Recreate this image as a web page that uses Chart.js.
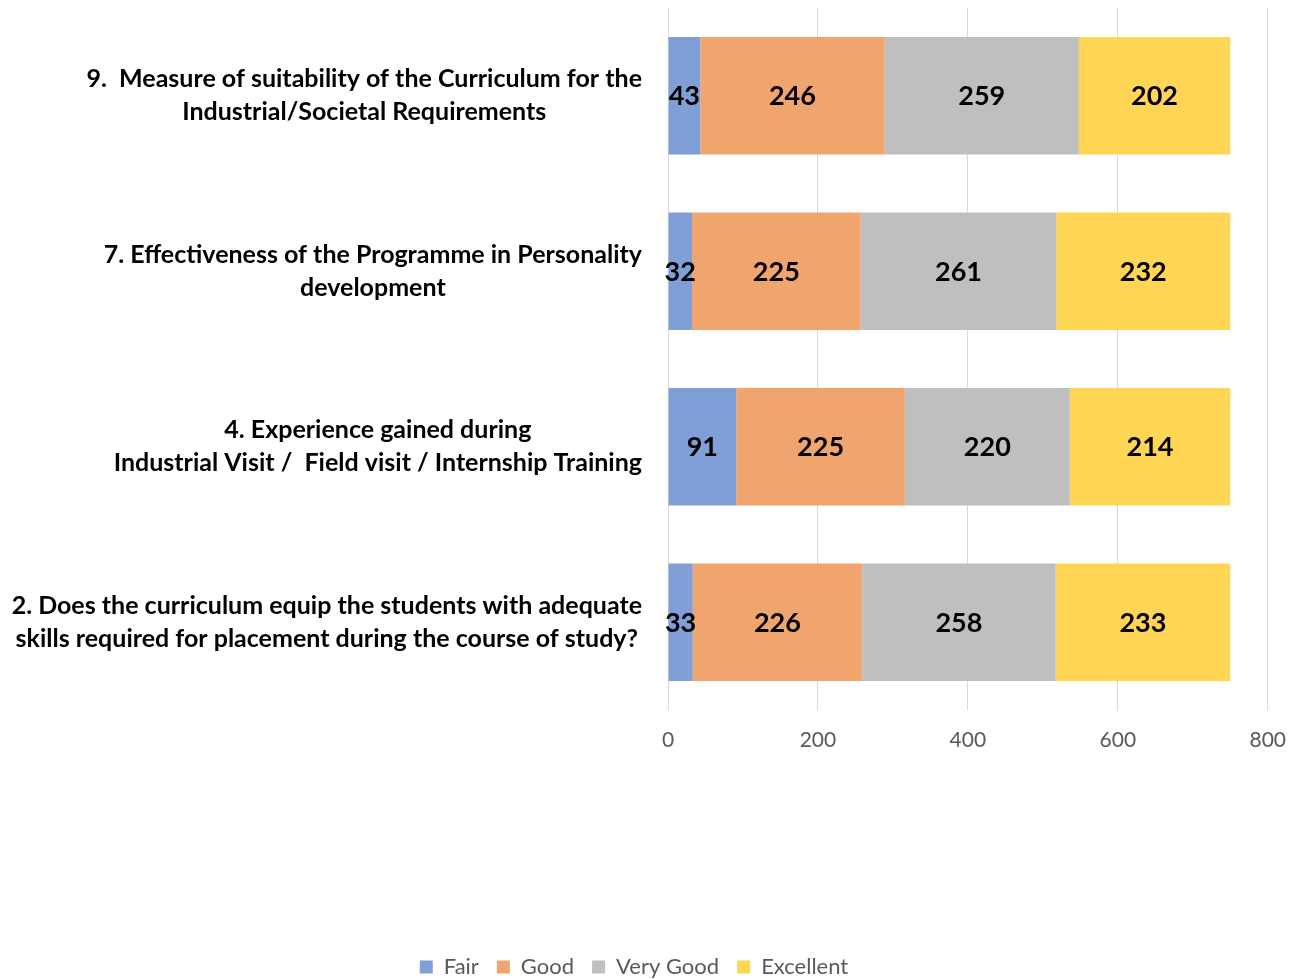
<!DOCTYPE html>
<html>
<head>
<meta charset="utf-8">
<script src="https://cdn.jsdelivr.net/npm/chart.js@4.4.0/dist/chart.umd.min.js"></script>
<style>
  html, body { margin: 0; padding: 0; background: #fff; }
  #wrap { width: 1304px; height: 979px; }
</style>
</head>
<body>
<div id="wrap"><canvas id="chart"></canvas></div>
<script>
  // categories, top to bottom
  const questions = [
    ['9.  Measure of suitability of the Curriculum for the', 'Industrial/Societal Requirements'],
    ['7. Effectiveness of the Programme in Personality', 'development'],
    ['4. Experience gained during', 'Industrial Visit /  Field visit / Internship Training'],
    ['2. Does the curriculum equip the students with adequate', 'skills required for placement during the course of study?']
  ];
  const fair = [43, 32, 91, 33];
  const good = [246, 225, 225, 226];
  const veryGood = [259, 261, 220, 258];
  const excellent = [202, 232, 214, 233];
  const xTicks = [0, 200, 400, 600, 800];

  // multi-line question labels, each block centred on itself and right-aligned to the axis
  const questionLabels = {
    id: 'questionLabels',
    afterDraw(chart) {
      const ctx = chart.ctx;
      const y = chart.scales.y;
      const right = chart.chartArea.left - 26;
      ctx.save();
      ctx.font = 'bold 25px Lato';
      ctx.fillStyle = '#000';
      ctx.textAlign = 'center';
      ctx.textBaseline = 'middle';
      questions.forEach((lines, i) => {
        const widest = Math.max(...lines.map(l => ctx.measureText(l).width));
        const cx = right - widest / 2;
        const cy = y.getPixelForValue(i);
        lines.forEach((l, j) => {
          ctx.fillText(l, cx, cy + (j - (lines.length - 1) / 2) * 33);
        });
      });
      ctx.restore();
    }
  };

  // value labels in the middle of each segment
  const valueLabels = {
    id: 'valueLabels',
    afterDatasetsDraw(chart) {
      const ctx = chart.ctx;
      ctx.save();
      ctx.font = 'bold 27px Lato';
      ctx.fillStyle = '#000';
      ctx.textAlign = 'center';
      ctx.textBaseline = 'middle';
      chart.data.datasets.forEach((ds, di) => {
        chart.getDatasetMeta(di).data.forEach((bar, i) => {
          ctx.fillText(ds.data[i], (bar.x + bar.base) / 2, bar.y + 1);
        });
      });
      ctx.restore();
    }
  };

  new Chart(document.getElementById('chart'), {
    type: 'bar',
    data: {
      labels: questions.map(q => q.join(' ')),
      datasets: [
        { label: 'Fair', data: fair, backgroundColor: '#7f9fd6' },
        { label: 'Good', data: good, backgroundColor: '#f0a56e' },
        { label: 'Very Good', data: veryGood, backgroundColor: '#bfbfbf' },
        { label: 'Excellent', data: excellent, backgroundColor: '#ffd555' }
      ]
    },
    options: {
      indexAxis: 'y',
      responsive: true,
      maintainAspectRatio: false,
      animation: false,
      categoryPercentage: 0.67,
      barPercentage: 1,
      layout: { padding: { top: 8, right: 36, bottom: -9, left: 0 } },
      scales: {
        x: {
          stacked: true,
          min: 0,
          max: 800,
          afterBuildTicks: s => { s.ticks = xTicks.map(v => ({ value: v })); },
          afterFit: s => { s.height = 228; },
          ticks: { font: { family: 'Lato', size: 21 }, color: '#595959', padding: 18 },
          grid: { color: '#d9d9d9', drawTicks: false },
          border: { display: false }
        },
        y: {
          stacked: true,
          afterFit: s => { s.width = 668; },
          ticks: { display: false },
          grid: { display: false },
          border: { display: false }
        }
      },
      plugins: {
        legend: {
          position: 'bottom',
          labels: {
            boxWidth: 13,
            boxHeight: 13,
            padding: 18,
            color: '#595959',
            font: { family: 'Lato', size: 22 }
          }
        },
        tooltip: { enabled: false }
      }
    },
    plugins: [questionLabels, valueLabels]
  });
</script>
</body>
</html>
